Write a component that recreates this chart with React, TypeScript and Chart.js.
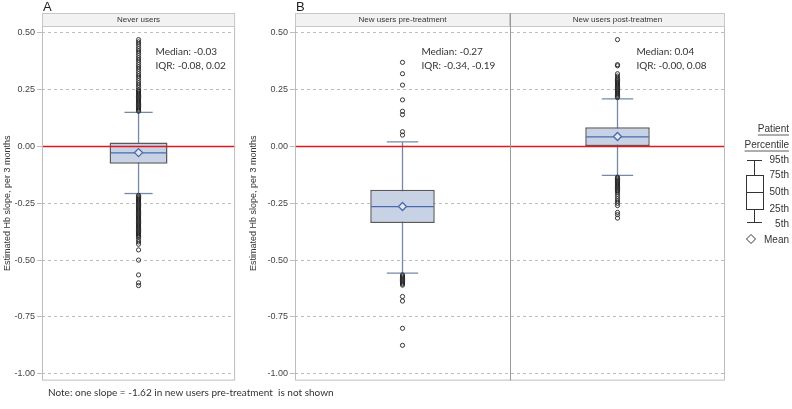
import React, { useEffect, useRef } from 'react';
import { Chart, registerables } from 'chart.js';
Chart.register(...registerables);

// ---------- data ----------
const Y_TICKS = [-1, -0.75, -0.5, -0.25, 0, 0.25, 0.5];
const Y_TITLE = 'Estimated Hb slope, per 3 months';

// Panel A
const catsA = ['Never users'];
const q1A = [-0.076];
const q3A = [0.017];
const medA = [-0.028];
const meanA = [-0.027];
const p5A = [-0.207];
const p95A = [0.15];
const outliersA = [[
  0.47, 0.46, 0.45, 0.44, 0.43, 0.42, 0.41, 0.40, 0.39, 0.38, 0.37, 0.36, 0.35, 0.34, 0.33, 0.32,
  0.31, 0.30, 0.29, 0.28, 0.27, 0.26, 0.25, 0.245, 0.24, 0.235, 0.23, 0.225, 0.22, 0.215, 0.21,
  0.205, 0.20, 0.195, 0.19, 0.185, 0.18, 0.175, 0.17, 0.165, 0.16, 0.155,
  -0.215, -0.22, -0.225, -0.23, -0.235, -0.24, -0.245, -0.25, -0.255, -0.26, -0.265, -0.27, -0.275,
  -0.28, -0.285, -0.29, -0.295, -0.30, -0.305, -0.31, -0.315, -0.32, -0.325, -0.33, -0.335, -0.34,
  -0.345, -0.35, -0.355, -0.36, -0.365, -0.37, -0.375, -0.38, -0.385, -0.39, -0.395, -0.40, -0.41,
  -0.42, -0.43, -0.455, -0.50, -0.565, -0.60, -0.612,
]];
const medianLabA = ['Median: -0.03'];
const iqrLabA = ['IQR: -0.08, 0.02'];

// Panel B
const catsB = ['New users pre-treatment', 'New users post-treatmen'];
const q1B = [-0.337, 0.0];
const q3B = [-0.19, 0.085];
const medB = [-0.265, 0.042];
const meanB = [-0.264, 0.044];
const p5B = [-0.557, -0.127];
const p95B = [0.02, 0.209];
const outliersB = [
  [
    0.37, 0.32, 0.27, 0.205, 0.155, 0.14, 0.065, 0.05,
    -0.565, -0.57, -0.575, -0.58, -0.585, -0.59, -0.595, -0.60, -0.605, -0.61,
    -0.66, -0.68, -0.80, -0.875,
  ],
  [
    0.47, 0.36, 0.355, 0.32, 0.31, 0.30, 0.295, 0.29, 0.285, 0.28, 0.275, 0.27, 0.265, 0.26, 0.255,
    0.25, 0.245, 0.24, 0.235, 0.23, 0.225, 0.22, 0.215,
    -0.135, -0.14, -0.145, -0.15, -0.155, -0.16, -0.165, -0.17, -0.175, -0.18, -0.185, -0.19, -0.195,
    -0.20, -0.21, -0.22, -0.23, -0.24, -0.25, -0.26, -0.29, -0.30, -0.315,
  ],
];
const medianLabB = ['Median: -0.27', 'Median: 0.04'];
const iqrLabB = ['IQR: -0.34, -0.19', 'IQR: -0.00, 0.08'];

const legendTitle = ['Patient', 'Percentile'];
const legendLabels = ['95th', '75th', '50th', '25th', '5th'];
const NOTE = 'Note: one slope = -1.62 in new users pre-treatment  is not shown';

// ---------- styles ----------
const BOX_FILL = '#c8d2e5';
const BOX_EDGE = '#5a5a5a';
const WHISK = '#7489aa';
const MED = '#4a68ad';
const AXIS_FONT = 'Liberation Sans';
const TEXT_FONT = 'Lato';

type PanelCfg = {
  letter: string;
  cats: string[];
  q1: number[]; q3: number[]; med: number[]; mean: number[];
  p5: number[]; p95: number[]; outliers: number[][];
  medLab: string[]; iqrLab: string[];
  axisW: number; rightPad: number; legend: boolean;
};

function makePlugin(cfg: PanelCfg) {
  return {
    id: 'boxExtras',
    beforeDatasetsDraw(chart: any) {
      const ctx = chart.ctx;
      const xs = chart.scales.x;
      const ys = chart.scales.y;
      const catW = xs.width / cfg.cats.length;
      ctx.save();
      cfg.cats.forEach((_, i) => {
        const x = xs.getPixelForValue(i);
        const capHalf = catW * 0.073;
        ctx.strokeStyle = WHISK;
        ctx.lineWidth = 1.3;
        ctx.beginPath();
        ctx.moveTo(x, ys.getPixelForValue(cfg.p95[i]));
        ctx.lineTo(x, ys.getPixelForValue(cfg.p5[i]));
        ctx.stroke();
        [cfg.p95[i], cfg.p5[i]].forEach((v) => {
          const y = ys.getPixelForValue(v);
          ctx.beginPath();
          ctx.moveTo(x - capHalf, y);
          ctx.lineTo(x + capHalf, y);
          ctx.stroke();
        });
      });
      ctx.restore();
    },
    afterDatasetsDraw(chart: any) {
      const ctx = chart.ctx;
      const xs = chart.scales.x;
      const ys = chart.scales.y;
      const ca = chart.chartArea;
      const catW = xs.width / cfg.cats.length;
      const boxHalf = catW * 0.15;
      ctx.save();
      // reference line at 0
      const y0 = ys.getPixelForValue(0);
      ctx.strokeStyle = '#e0191e';
      ctx.lineWidth = 1.5;
      ctx.beginPath();
      ctx.moveTo(ca.left, y0);
      ctx.lineTo(ca.right, y0);
      ctx.stroke();
      cfg.cats.forEach((_, i) => {
        const x = xs.getPixelForValue(i);
        // median
        const ym = ys.getPixelForValue(cfg.med[i]);
        ctx.strokeStyle = MED;
        ctx.lineWidth = 1.3;
        ctx.beginPath();
        ctx.moveTo(x - boxHalf + 1, ym);
        ctx.lineTo(x + boxHalf - 1, ym);
        ctx.stroke();
        // mean diamond
        const yn = ys.getPixelForValue(cfg.mean[i]);
        const d = 4;
        ctx.fillStyle = '#e4e9f3';
        ctx.beginPath();
        ctx.moveTo(x, yn - d);
        ctx.lineTo(x + d, yn);
        ctx.lineTo(x, yn + d);
        ctx.lineTo(x - d, yn);
        ctx.closePath();
        ctx.fill();
        ctx.stroke();
        // annotations
        ctx.fillStyle = '#333';
        ctx.font = `10px "${TEXT_FONT}"`;
        ctx.textAlign = 'left';
        ctx.textBaseline = 'middle';
        const tx = x + catW * 0.088;
        ctx.fillText(cfg.medLab[i], tx, ca.top + 26);
        ctx.fillText(cfg.iqrLab[i], tx, ca.top + 40);
      });
      // frame
      ctx.strokeStyle = '#bdbdbd';
      ctx.lineWidth = 1;
      const hTop = ca.top - 13;
      ctx.strokeRect(ca.left + 0.5, ca.top + 0.5, ca.right - ca.left - 1, ca.bottom - ca.top - 1);
      // headers
      cfg.cats.forEach((c, i) => {
        const l = ca.left + i * catW;
        ctx.fillStyle = '#f2f2f2';
        ctx.fillRect(l, hTop, catW, 13);
        ctx.strokeStyle = '#c8c8c8';
        ctx.strokeRect(l + 0.5, hTop + 0.5, catW - 1, 13);
        ctx.fillStyle = '#333';
        ctx.font = `8px "${AXIS_FONT}"`;
        ctx.textAlign = 'center';
        ctx.textBaseline = 'middle';
        ctx.fillText(c, l + catW / 2, hTop + 7);
        if (i > 0) {
          ctx.strokeStyle = '#9a9a9a';
          ctx.beginPath();
          ctx.moveTo(Math.round(l) + 0.5, hTop);
          ctx.lineTo(Math.round(l) + 0.5, ca.bottom);
          ctx.stroke();
        }
      });
      // panel letter
      ctx.fillStyle = '#222';
      ctx.font = `13px "${AXIS_FONT}"`;
      ctx.textAlign = 'left';
      ctx.textBaseline = 'middle';
      ctx.fillText(cfg.letter, ca.left + 1, 7);
      // legend
      if (cfg.legend) {
        const R = ca.right + 64;
        ctx.fillStyle = '#333';
        ctx.font = `10px "${AXIS_FONT}"`;
        ctx.textAlign = 'right';
        ctx.textBaseline = 'middle';
        legendTitle.forEach((t, k) => {
          const ty = 129 + k * 16;
          ctx.fillText(t, R, ty);
          const w = ctx.measureText(t).width;
          ctx.strokeStyle = '#333';
          ctx.lineWidth = 0.8;
          ctx.beginPath();
          ctx.moveTo(R - w, ty + 6);
          ctx.lineTo(R, ty + 6);
          ctx.stroke();
        });
        const ly = [160, 175.5, 192, 209, 224.5];
        legendLabels.forEach((t, k) => ctx.fillText(t, R, ly[k]));
        ctx.fillText('Mean', R, 240);
        const gx = ca.right + 29;
        ctx.strokeStyle = '#333';
        ctx.lineWidth = 1;
        ctx.beginPath();
        ctx.moveTo(gx - 7, 160.5); ctx.lineTo(gx + 8, 160.5);
        ctx.moveTo(gx + 0.5, 160.5); ctx.lineTo(gx + 0.5, 175.5);
        ctx.moveTo(gx + 0.5, 209.5); ctx.lineTo(gx + 0.5, 222.5);
        ctx.moveTo(gx - 7, 222.5); ctx.lineTo(gx + 8, 222.5);
        ctx.moveTo(gx - 8, 192.5); ctx.lineTo(gx + 9, 192.5);
        ctx.stroke();
        ctx.strokeRect(gx - 8 + 0.5, 175.5, 17, 34);
        const dx = gx - 3, dy = 239;
        ctx.beginPath();
        ctx.moveTo(dx, dy - 4.5); ctx.lineTo(dx + 4.5, dy); ctx.lineTo(dx, dy + 4.5); ctx.lineTo(dx - 4.5, dy);
        ctx.closePath();
        ctx.stroke();
      }
      ctx.restore();
    },
  };
}

function buildChart(canvas: HTMLCanvasElement, cfg: PanelCfg) {
  const scatterData = cfg.outliers.flatMap((arr, i) => arr.map((v) => ({ x: cfg.cats[i], y: v })));
  return new Chart(canvas, {
    type: 'bar',
    data: {
      labels: cfg.cats,
      datasets: [
        {
          type: 'bar',
          data: cfg.q1.map((q, i) => [q, cfg.q3[i]]) as any,
          backgroundColor: BOX_FILL,
          borderColor: BOX_EDGE,
          borderWidth: 1.5,
          borderSkipped: false,
          barPercentage: 0.3,
          categoryPercentage: 1.0,
          order: 2,
        } as any,
        {
          type: 'scatter',
          data: scatterData as any,
          pointStyle: 'circle',
          pointRadius: 2.1,
          pointBorderWidth: 0.9,
          pointBorderColor: '#222',
          pointBackgroundColor: 'rgba(255,255,255,0)',
          showLine: false,
          order: 1,
        } as any,
      ],
    },
    options: {
      responsive: false,
      animation: false,
      events: [],
      layout: { padding: { top: 26, right: cfg.rightPad, bottom: 5, left: 0 } },
      plugins: { legend: { display: false }, tooltip: { enabled: false } },
      scales: {
        x: { type: 'category', offset: true, display: false, grid: { display: false } },
        y: {
          type: 'linear',
          min: -1.03,
          max: 0.53,
          afterFit: (s: any) => { s.width = cfg.axisW; },
          afterBuildTicks: (s: any) => { s.ticks = Y_TICKS.map((v) => ({ value: v })); },
          ticks: {
            callback: (v: any) => Number(v).toFixed(2),
            font: { family: AXIS_FONT, size: 9 },
            color: '#444',
            padding: 2,
          },
          grid: { color: '#bdbdbd', lineWidth: 1, tickLength: 5, drawTicks: true },
          border: { display: false, dash: [3, 3] },
          title: {
            display: true,
            text: Y_TITLE,
            font: { family: AXIS_FONT, size: 9 },
            color: '#333',
            padding: { top: 2, bottom: 0 },
          },
        },
      },
    } as any,
    plugins: [makePlugin(cfg)],
  });
}

export default function App() {
  const refA = useRef<HTMLCanvasElement>(null);
  const refB = useRef<HTMLCanvasElement>(null);
  useEffect(() => {
    const a = buildChart(refA.current!, {
      letter: 'A', cats: catsA, q1: q1A, q3: q3A, med: medA, mean: meanA, p5: p5A, p95: p95A,
      outliers: outliersA, medLab: medianLabA, iqrLab: iqrLabA, axisW: 42, rightPad: 3, legend: false,
    });
    const b = buildChart(refB.current!, {
      letter: 'B', cats: catsB, q1: q1B, q3: q3B, med: medB, mean: meanB, p5: p5B, p95: p95B,
      outliers: outliersB, medLab: medianLabB, iqrLab: iqrLabB, axisW: 49, rightPad: 67, legend: true,
    });
    return () => { a.destroy(); b.destroy(); };
  }, []);
  return (
    <div style={{ position: 'fixed', left: 0, top: 0, width: 792, height: 409, background: '#fff', overflow: 'hidden' }}>
      <canvas ref={refA} width={240} height={388} style={{ position: 'absolute', left: 0, top: 0 }} />
      <canvas ref={refB} width={546} height={388} style={{ position: 'absolute', left: 246, top: 0 }} />
      <div style={{ position: 'absolute', left: 48, top: 385, fontFamily: TEXT_FONT, fontSize: 10, color: '#333', lineHeight: '14px', whiteSpace: 'pre' }}>
        {NOTE}
      </div>
    </div>
  );
}
